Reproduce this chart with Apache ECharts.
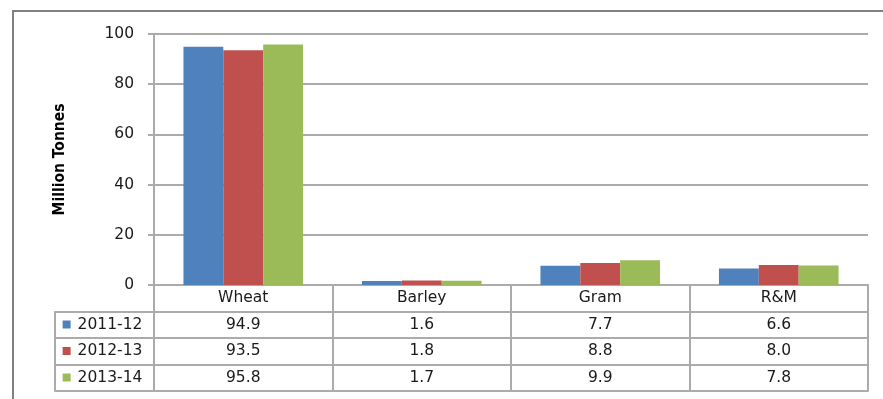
<!DOCTYPE html>
<html>
<head>
<meta charset="utf-8">
<script src="https://cdn.jsdelivr.net/npm/echarts@6/dist/echarts.min.js"></script>
<style>html,body{margin:0;padding:0;background:#fff;}#c{width:883px;height:399px;}</style>
</head>
<body>
<div id="c"></div>
<script>
var categories = ['Wheat', 'Barley', 'Gram', 'R&M'];
var seriesNames = ['2011-12', '2012-13', '2013-14'];
var s2011 = [94.9, 1.6, 7.7, 6.6];
var s2012 = [93.5, 1.8, 8.8, 8.0];
var s2013 = [95.8, 1.7, 9.9, 7.8];
var yTicks = [0, 20, 40, 60, 80, 100];
var colors = ['#4F81BD', '#C0504D', '#9BBB59'];

var values = [s2011, s2012, s2013];
var FONT = 'DejaVu Sans';
var FS = 15.5;
var ROW = 26.5;
var LINE = '#ababab';
var LW = 2;

var chart = echarts.init(document.getElementById('c'), null, {renderer: 'canvas'});

var xAxes = [];
xAxes.push({
  type: 'category', gridIndex: 0, data: categories, position: 'bottom', offset: 0,
  axisLine: {show: true, onZero: false, lineStyle: {color: LINE, width: LW}},
  axisTick: {show: true, length: ROW, lineStyle: {color: LINE, width: LW}},
  axisLabel: {interval: 0, margin: 5, fontFamily: FONT, fontSize: FS, color: '#1a1a1a'}
});
for (var i = 0; i < values.length; i++) {
  xAxes.push({
    type: 'category', gridIndex: 0, position: 'bottom', offset: ROW * (i + 1),
    data: values[i].map(function (v) { return v.toFixed(1); }),
    axisLine: {show: true, onZero: false, lineStyle: {color: LINE, width: LW}},
    axisTick: {show: true, length: ROW, lineStyle: {color: LINE, width: LW}},
    axisLabel: {interval: 0, margin: 5, fontFamily: FONT, fontSize: FS, color: '#1a1a1a'}
  });
}
xAxes.push({
  type: 'category', gridIndex: 0, position: 'bottom', offset: ROW * 4,
  data: categories.map(function () { return ''; }),
  axisLine: {show: true, onZero: false, lineStyle: {color: LINE, width: LW}},
  axisTick: {show: false}, axisLabel: {show: false}
});
var rich = {t: {fontFamily: FONT, fontSize: FS, color: '#1a1a1a', padding: [0, 0, 0, 7]}};
for (var k = 0; k < seriesNames.length; k++) {
  rich['m' + k] = {backgroundColor: colors[k], width: 8, height: 8};
}
for (var j = 0; j < seriesNames.length; j++) {
  (function (j) {
    xAxes.push({
      type: 'category', gridIndex: 1, position: 'bottom', offset: ROW * (j + 1),
      data: [seriesNames[j]],
      axisLine: {show: true, onZero: false, lineStyle: {color: LINE, width: LW}},
      axisTick: {show: true, length: ROW, lineStyle: {color: LINE, width: LW}},
      axisLabel: {interval: 0, margin: 5, padding: [0, 4, 0, 0], rich: rich,
        formatter: function (v) { return '{m' + j + '|}{t|' + v + '}'; }}
    });
  })(j);
}
xAxes.push({
  type: 'category', gridIndex: 1, position: 'bottom', offset: ROW * 4, data: [''],
  axisLine: {show: true, onZero: false, lineStyle: {color: LINE, width: LW}},
  axisTick: {show: false}, axisLabel: {show: false}
});

var series = seriesNames.map(function (n, i) {
  return {
    name: n, type: 'bar', xAxisIndex: 0, yAxisIndex: 0, data: values[i],
    barGap: '0%', barCategoryGap: '33%',
    itemStyle: {color: colors[i]}
  };
});

chart.setOption({
  animation: false,
  backgroundColor: '#ffffff',
  graphic: [{
    type: 'rect', silent: true,
    shape: {x: 13, y: 11, width: 900, height: 420},
    style: {fill: 'none', stroke: '#808080', lineWidth: 2}
  }],
  grid: [
    {left: 154, right: 15, top: 34, bottom: 114},
    {left: 55, width: 99, top: 34, bottom: 114}
  ],
  xAxis: xAxes,
  yAxis: [
    {
      type: 'value', gridIndex: 0, min: yTicks[0], max: yTicks[yTicks.length - 1], interval: 20,
      name: 'Million Tonnes', nameLocation: 'middle', nameGap: 86, nameRotate: 90,
      nameTextStyle: {fontFamily: 'DejaVu Sans Condensed', fontWeight: 'bold', fontSize: 15.5, color: '#000'},
      axisLine: {show: true, lineStyle: {color: LINE, width: LW}},
      axisTick: {show: true, length: 6, lineStyle: {color: LINE, width: LW}},
      axisLabel: {margin: 20, fontFamily: FONT, fontSize: FS, color: '#1a1a1a'},
      splitLine: {show: true, lineStyle: {color: LINE, width: LW}}
    },
    {type: 'value', gridIndex: 1, min: 0, max: 1, show: false}
  ],
  series: series
});
</script>
</body>
</html>
